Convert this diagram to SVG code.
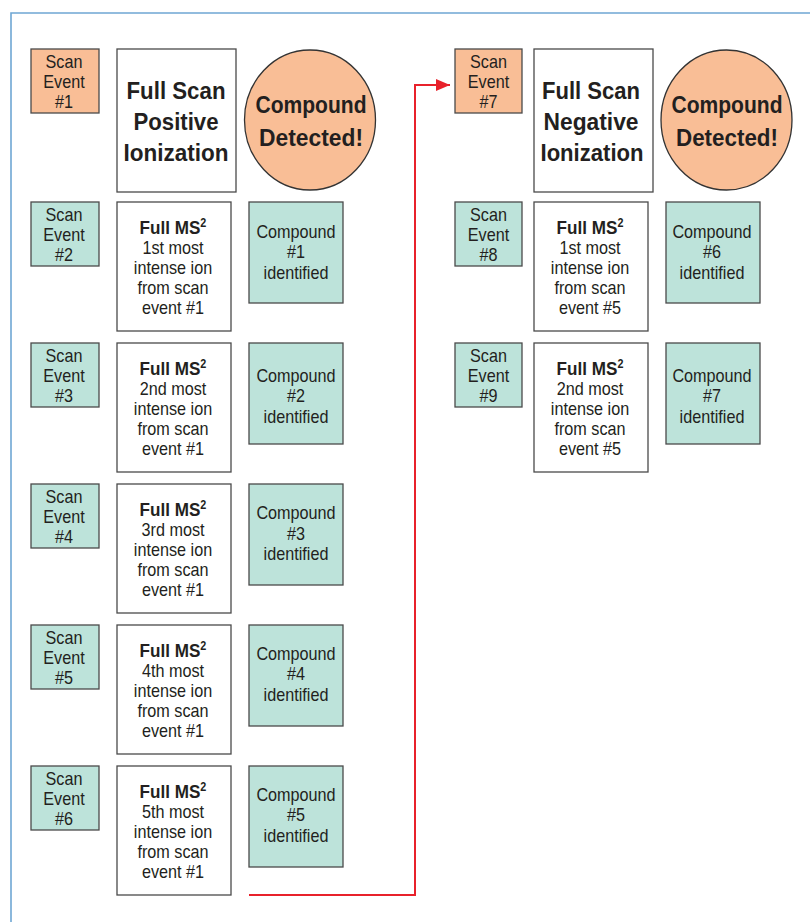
<svg xmlns="http://www.w3.org/2000/svg" width="810" height="922" viewBox="0 0 810 922">
<defs>
<style>
.frame{fill:none;stroke:#6fa7d4;stroke-width:1.6}
.se{stroke:#4a4a4a;stroke-width:1.3}
.or{fill:#f9be96}
.tl{fill:#bde3da}
.wb{fill:#fff;stroke:#4a4a4a;stroke-width:1.3}
.circ{fill:#f9be96;stroke:#333;stroke-width:1.3}
text{font-family:"Liberation Sans",Arial,sans-serif;text-anchor:middle;fill:#231f20}
.t{font-size:18px;transform:scale(0.9,1)}
.m{font-weight:bold;font-size:19px;transform:scale(0.9,1)}
.b{font-weight:bold;font-size:23px}
.conn{fill:none;stroke:#e8212b;stroke-width:2}
</style>
<marker id="ah" viewBox="0 0 14 12" refX="14" refY="6" markerWidth="14" markerHeight="12" markerUnits="userSpaceOnUse" orient="auto"><path d="M0,0L14,6L0,12z" fill="#e8212b"/></marker>
</defs>
<rect width="810" height="922" fill="#fff"/>
<path class="frame" d="M11,922V13H810"/>

<g id="se1"><rect class="se or" x="31" y="49" width="68" height="64"/><text class="t" x="71.11" y="68">Scan</text><text class="t" x="71.11" y="88">Event</text><text class="t" x="71.11" y="108">#1</text></g>
<g id="fs-pos"><rect class="wb" x="117" y="49" width="119" height="143"/><text class="b" x="176" y="99" textLength="99" lengthAdjust="spacingAndGlyphs">Full Scan</text><text class="b" x="176" y="130" textLength="85" lengthAdjust="spacingAndGlyphs">Positive</text><text class="b" x="176" y="161" textLength="105" lengthAdjust="spacingAndGlyphs">Ionization</text></g>
<g id="cd1"><ellipse class="circ" cx="310" cy="120" rx="65.5" ry="70"/><text class="b" x="311" y="113" textLength="111" lengthAdjust="spacingAndGlyphs">Compound</text><text class="b" x="311" y="146" textLength="104" lengthAdjust="spacingAndGlyphs">Detected!</text></g>

<g id="se7"><rect class="se or" x="455" y="49" width="67" height="64"/><text class="t" x="542.78" y="68">Scan</text><text class="t" x="542.78" y="88">Event</text><text class="t" x="542.78" y="108">#7</text></g>
<g id="fs-neg"><rect class="wb" x="534" y="49" width="119" height="143"/><text class="b" x="591" y="99" textLength="98" lengthAdjust="spacingAndGlyphs">Full Scan</text><text class="b" x="591" y="130" textLength="95" lengthAdjust="spacingAndGlyphs">Negative</text><text class="b" x="592" y="161" textLength="103" lengthAdjust="spacingAndGlyphs">Ionization</text></g>
<g id="cd2"><ellipse class="circ" cx="726.5" cy="120" rx="65.5" ry="70"/><text class="b" x="727" y="113" textLength="111" lengthAdjust="spacingAndGlyphs">Compound</text><text class="b" x="727" y="146" textLength="102" lengthAdjust="spacingAndGlyphs">Detected!</text></g>

<g id="se2"><rect class="se tl" x="31" y="202" width="68" height="64"/><text class="t" x="71.11" y="221">Scan</text><text class="t" x="71.11" y="241">Event</text><text class="t" x="71.11" y="261">#2</text></g>
<g id="ms2-1"><rect class="wb" x="117" y="202" width="114" height="129"/><text class="m" x="192.22" y="234">Full MS<tspan font-size="12" dy="-7">2</tspan></text><text class="t" x="192.22" y="254">1st most</text><text class="t" x="192.22" y="274">intense ion</text><text class="t" x="192.22" y="294">from scan</text><text class="t" x="192.22" y="314.5">event #1</text></g>
<g id="c1"><rect class="se tl" x="249" y="202" width="94" height="101"/><text class="t" x="328.89" y="238">Compound</text><text class="t" x="328.89" y="258.5">#1</text><text class="t" x="328.89" y="279">identified</text></g>

<g id="se3"><rect class="se tl" x="31" y="343" width="68" height="64"/><text class="t" x="71.11" y="362">Scan</text><text class="t" x="71.11" y="382">Event</text><text class="t" x="71.11" y="402">#3</text></g>
<g id="ms2-2"><rect class="wb" x="117" y="343" width="114" height="129"/><text class="m" x="192.22" y="375">Full MS<tspan font-size="12" dy="-7">2</tspan></text><text class="t" x="192.22" y="395">2nd most</text><text class="t" x="192.22" y="415">intense ion</text><text class="t" x="192.22" y="435">from scan</text><text class="t" x="192.22" y="455.5">event #1</text></g>
<g id="c2"><rect class="se tl" x="249" y="343" width="94" height="101"/><text class="t" x="328.89" y="382">Compound</text><text class="t" x="328.89" y="402.5">#2</text><text class="t" x="328.89" y="423">identified</text></g>

<g id="se4"><rect class="se tl" x="31" y="484" width="68" height="64"/><text class="t" x="71.11" y="503">Scan</text><text class="t" x="71.11" y="523">Event</text><text class="t" x="71.11" y="543">#4</text></g>
<g id="ms2-3"><rect class="wb" x="117" y="484" width="114" height="129"/><text class="m" x="192.22" y="516">Full MS<tspan font-size="12" dy="-7">2</tspan></text><text class="t" x="192.22" y="536">3rd most</text><text class="t" x="192.22" y="556">intense ion</text><text class="t" x="192.22" y="576">from scan</text><text class="t" x="192.22" y="596.5">event #1</text></g>
<g id="c3"><rect class="se tl" x="249" y="484" width="94" height="101"/><text class="t" x="328.89" y="519">Compound</text><text class="t" x="328.89" y="539.5">#3</text><text class="t" x="328.89" y="560">identified</text></g>

<g id="se5"><rect class="se tl" x="31" y="625" width="68" height="64"/><text class="t" x="71.11" y="644">Scan</text><text class="t" x="71.11" y="664">Event</text><text class="t" x="71.11" y="684">#5</text></g>
<g id="ms2-4"><rect class="wb" x="117" y="625" width="114" height="129"/><text class="m" x="192.22" y="657">Full MS<tspan font-size="12" dy="-7">2</tspan></text><text class="t" x="192.22" y="677">4th most</text><text class="t" x="192.22" y="697">intense ion</text><text class="t" x="192.22" y="717">from scan</text><text class="t" x="192.22" y="737.5">event #1</text></g>
<g id="c4"><rect class="se tl" x="249" y="625" width="94" height="101"/><text class="t" x="328.89" y="660">Compound</text><text class="t" x="328.89" y="680.5">#4</text><text class="t" x="328.89" y="701">identified</text></g>

<g id="se6"><rect class="se tl" x="31" y="766" width="68" height="64"/><text class="t" x="71.11" y="785">Scan</text><text class="t" x="71.11" y="805">Event</text><text class="t" x="71.11" y="825">#6</text></g>
<g id="ms2-5"><rect class="wb" x="117" y="766" width="114" height="129"/><text class="m" x="192.22" y="798">Full MS<tspan font-size="12" dy="-7">2</tspan></text><text class="t" x="192.22" y="818">5th most</text><text class="t" x="192.22" y="838">intense ion</text><text class="t" x="192.22" y="858">from scan</text><text class="t" x="192.22" y="878.5">event #1</text></g>
<g id="c5"><rect class="se tl" x="249" y="766" width="94" height="101"/><text class="t" x="328.89" y="801">Compound</text><text class="t" x="328.89" y="821.5">#5</text><text class="t" x="328.89" y="842">identified</text></g>

<g id="se8"><rect class="se tl" x="455" y="202" width="67" height="64"/><text class="t" x="542.78" y="221">Scan</text><text class="t" x="542.78" y="241">Event</text><text class="t" x="542.78" y="261">#8</text></g>
<g id="ms2-6"><rect class="wb" x="534" y="202" width="114" height="129"/><text class="m" x="655.56" y="234">Full MS<tspan font-size="12" dy="-7">2</tspan></text><text class="t" x="655.56" y="254">1st most</text><text class="t" x="655.56" y="274">intense ion</text><text class="t" x="655.56" y="294">from scan</text><text class="t" x="655.56" y="314.5">event #5</text></g>
<g id="c6"><rect class="se tl" x="666" y="202" width="94" height="101"/><text class="t" x="791.11" y="238">Compound</text><text class="t" x="791.11" y="258.5">#6</text><text class="t" x="791.11" y="279">identified</text></g>

<g id="se9"><rect class="se tl" x="455" y="343" width="67" height="64"/><text class="t" x="542.78" y="362">Scan</text><text class="t" x="542.78" y="382">Event</text><text class="t" x="542.78" y="402">#9</text></g>
<g id="ms2-7"><rect class="wb" x="534" y="343" width="114" height="129"/><text class="m" x="655.56" y="375">Full MS<tspan font-size="12" dy="-7">2</tspan></text><text class="t" x="655.56" y="395">2nd most</text><text class="t" x="655.56" y="415">intense ion</text><text class="t" x="655.56" y="435">from scan</text><text class="t" x="655.56" y="455.5">event #5</text></g>
<g id="c7"><rect class="se tl" x="666" y="343" width="94" height="101"/><text class="t" x="791.11" y="382">Compound</text><text class="t" x="791.11" y="402.5">#7</text><text class="t" x="791.11" y="423">identified</text></g>

<g id="connectors"><path class="conn" d="M249,895H415V85H450" marker-end="url(#ah)"/></g>
</svg>
